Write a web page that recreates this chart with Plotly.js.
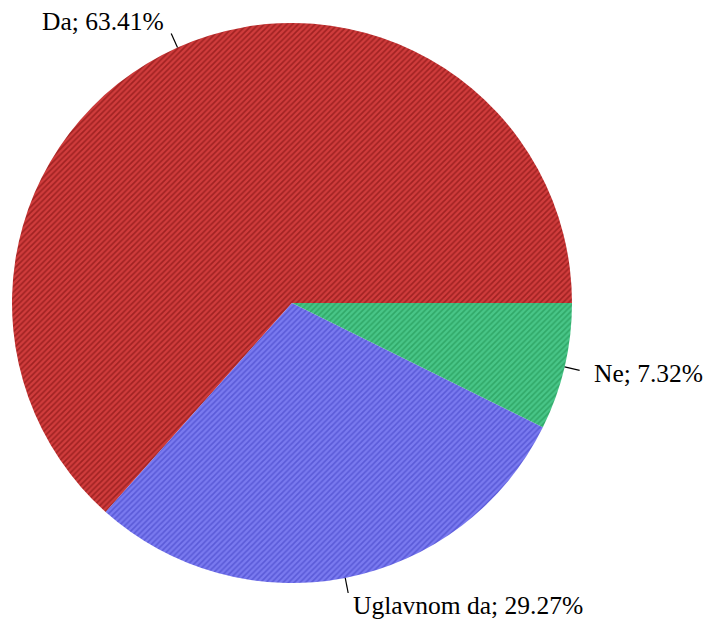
<!DOCTYPE html>
<html>
<head>
<meta charset="utf-8">
<script src="https://cdn.plot.ly/plotly-3.0.1.min.js"></script>
<style>html,body{margin:0;padding:0;background:#fff;}</style>
</head>
<body>
<div id="chart" style="width:707px;height:624px;"></div>
<script>
const labels = ["Da", "Uglavnom da", "Ne"];
const values = [63.41, 29.27, 7.32];
const bgColors = ["#d03c3c", "#7a7af0", "#48c688"];
const fgColors = ["#a02222", "#5a5ad8", "#30a868"];

const total = values.reduce((a, b) => a + b, 0);
const shapes = [];
const annotations = [];
let start = 0;
values.forEach((v, i) => {
  const sweep = v / total * 360;
  const mid = (start + sweep / 2) * Math.PI / 180;
  start += sweep;
  const c = Math.cos(mid), s = Math.sin(mid);
  const R = 0.5;
  shapes.push({type: "line", xref: "paper", yref: "paper",
    x0: 0.5 + R * c, y0: 0.5 + R * s,
    x1: 0.5 + R * 1.055 * c, y1: 0.5 + R * 1.055 * s,
    line: {color: "#000", width: 1.2}});
  annotations.push({xref: "paper", yref: "paper",
    x: 0.5 + R * 1.1 * c, y: 0.5 + R * 1.1 * s,
    xanchor: c >= 0 ? "left" : "right", yanchor: "middle",
    text: labels[i] + "; " + v.toFixed(2) + "%",
    showarrow: false,
    font: {family: "Liberation Serif, serif", size: 25.5, color: "#000"}});
});

// Plotly: for counterclockwise pies the first slice ends at the rotation angle
// (measured clockwise from 12 o'clock); make the first slice begin at 3 o'clock.
const rotation = 90 + 360 * (1 - values[0] / total);

const trace = {
  type: "pie",
  labels: labels,
  values: values,
  sort: false,
  direction: "counterclockwise",
  rotation: rotation,
  textinfo: "none",
  hoverinfo: "label+percent",
  marker: {
    colors: bgColors,
    line: {width: 0},
    pattern: {shape: "/", fgcolor: fgColors, bgcolor: bgColors, size: 4, solidity: 0.4, fillmode: "replace"}
  },
  domain: {x: [0, 1], y: [0, 1]}
};

const layout = {
  width: 707, height: 624,
  margin: {l: 12, r: 135, t: 23, b: 41},
  showlegend: false,
  paper_bgcolor: "#fff",
  shapes: shapes,
  annotations: annotations
};

Plotly.newPlot("chart", [trace], layout, {displayModeBar: false, staticPlot: true});
</script>
</body>
</html>
